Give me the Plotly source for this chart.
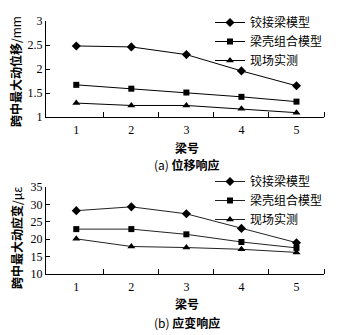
import plotly.graph_objects as go

beams = [1, 2, 3, 4, 5]
series_names = ["铰接梁模型", "梁壳组合模型", "现场实测"]
disp_hinge = [2.48, 2.46, 2.30, 1.96, 1.65]
disp_shell = [1.67, 1.59, 1.51, 1.42, 1.32]
disp_field = [1.29, 1.24, 1.24, 1.17, 1.09]
strain_hinge = [28.2, 29.3, 27.3, 23.1, 19.0]
strain_shell = [22.9, 22.9, 21.4, 19.2, 17.5]
strain_field = [20.1, 17.9, 17.6, 17.1, 16.2]
boundary_ticks = [1.5, 2.5, 3.5, 4.5, 5.5]

OFF = 8  # default page body margin
W, H = 339 - OFF, 335 - OFF
CJK = "Noto Sans CJK SC"
SERIF = "Liberation Serif"
markers = ["diamond", "square", "triangle-up"]
msizes = [7, 6, 7]

fig = go.Figure()
for i, (name, vals) in enumerate(zip(series_names, [disp_hinge, disp_shell, disp_field])):
    fig.add_trace(go.Scatter(x=beams, y=vals, name=name, mode="lines+markers",
                             line=dict(color="black", width=1),
                             marker=dict(symbol=markers[i], size=msizes[i], color="black"),
                             xaxis="x", yaxis="y", legend="legend"))
for i, (name, vals) in enumerate(zip(series_names, [strain_hinge, strain_shell, strain_field])):
    fig.add_trace(go.Scatter(x=beams, y=vals, name=name, mode="lines+markers",
                             line=dict(color="#222", width=1),
                             marker=dict(symbol=markers[i], size=msizes[i], color="black"),
                             xaxis="x2", yaxis="y2", legend="legend2"))

def px_x(p):
    return (p - OFF) / W

def px_y(p):
    return 1 - (p - OFF) / H

xdom = [px_x(46), px_x(324)]
common_x = dict(range=[0.45, 5.5], tickvals=beams, ticktext=[str(b) for b in beams],
                ticks="", showline=True, linecolor="black", linewidth=1, showgrid=False,
                zeroline=False, tickfont=dict(family=SERIF, size=12, color="black"),
                ticklabelstandoff=2, automargin=False,
                minor=dict(tickvals=boundary_ticks, ticks="inside", ticklen=5,
                           tickcolor="black", showgrid=False))
common_y = dict(ticks="inside", ticklen=4, tickcolor="black", showline=True,
                linecolor="black", linewidth=1, showgrid=False, zeroline=False,
                automargin=False, tickfont=dict(family=SERIF, size=12, color="black"))

leg_font = dict(family=CJK, size=12, color="black")
fig.update_layout(
    width=W, height=H, margin=dict(l=0, r=0, t=0, b=0, autoexpand=False),
    plot_bgcolor="white", paper_bgcolor="white",
    xaxis=dict(domain=xdom, anchor="y", **common_x),
    yaxis=dict(domain=[px_y(117), px_y(21)], range=[1, 3], anchor="x",
               tickvals=[1, 1.5, 2, 2.5, 3], ticktext=["1", "1.5", "2", "2.5", "3"], **common_y),
    xaxis2=dict(domain=xdom, anchor="y2", **common_x),
    yaxis2=dict(domain=[px_y(274), px_y(187)], range=[10, 35], dtick=5, anchor="x2", **common_y),
    legend=dict(x=px_x(210), y=1.0, xanchor="left", yanchor="top",
                font=leg_font, bgcolor="rgba(0,0,0,0)", itemwidth=30, tracegroupgap=0),
    legend2=dict(x=px_x(210), y=px_y(167), xanchor="left", yanchor="top",
                 font=leg_font, bgcolor="rgba(0,0,0,0)", itemwidth=30, tracegroupgap=0),
    showlegend=True,
)

def label(text, cx, cy, size=12, angle=0):
    return dict(text=text, x=px_x(cx), y=px_y(cy), xref="paper", yref="paper",
                xanchor="center", yanchor="middle", showarrow=False, textangle=angle,
                font=dict(family=CJK, size=size, color="black"))

ann = [
    label("<b>梁号</b>", 187, 147),
    label("(a) <b>位移响应</b>", 187, 164),
    label("<b>梁号</b>", 187, 303),
    label("(b) <b>应变响应</b>", 187, 322),
    label("<b>跨中最大动位移</b>/mm", 16, 72, angle=-90),
    label("<b>跨中最大动应变</b>/με", 16, 238, angle=-90),
]
fig.update_layout(annotations=ann)

fig.write_html("out.html")
